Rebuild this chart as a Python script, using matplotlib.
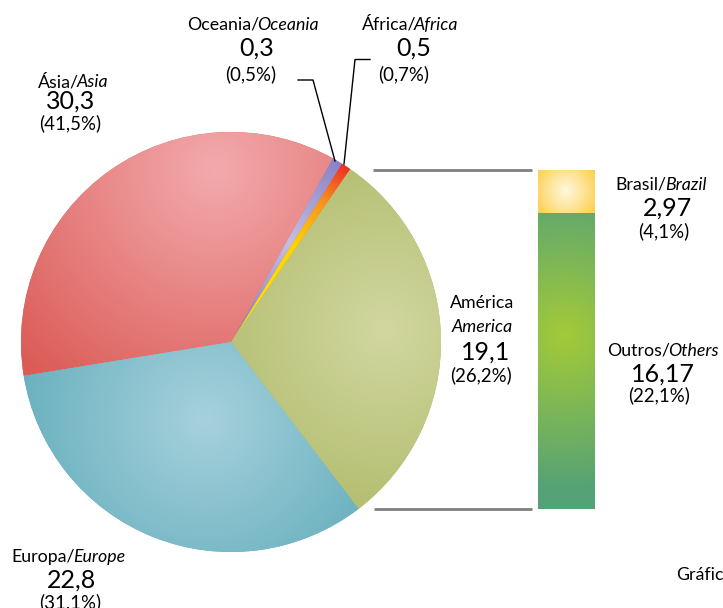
import numpy as np
import matplotlib
matplotlib.use('Agg')
import matplotlib.pyplot as plt
from matplotlib.colors import LinearSegmentedColormap

W, H = 723, 608

# ---- data (as printed on the chart) ----
regions = ['Ásia', 'Oceania', 'África', 'América', 'Europa']
regions_en = ['Asia', 'Oceania', 'Africa', 'America', 'Europe']
values = [30.3, 0.3, 0.5, 19.1, 22.8]
percents = ['41,5%', '0,5%', '0,7%', '26,2%', '31,1%']
# slice sizes as drawn in the picture (share of the circle, %), counter-clockwise from America
slice_order = ['América', 'África', 'Oceania', 'Ásia', 'Europa']
slice_shares = [30.0, 0.75, 0.8, 35.6, 32.8]

bar_items = ['Brasil', 'Outros']
bar_items_en = ['Brazil', 'Others']
bar_values = [2.97, 16.17]
bar_percents = ['4,1%', '22,1%']
# bar segment sizes as drawn (share of the bar, %)
bar_shares = [12.7, 87.3]

FONT = 'Lato'
LBL, VAL, PCT = 12.8, 18, 13.4


def Y(y):
    return H - y


fig = plt.figure(figsize=(W / 100, H / 100), dpi=100)
ax = fig.add_axes([0, 0, 1, 1])
ax.set_axis_off()

cx, cy, R = 231, 342, 210
wedges, _ = ax.pie(slice_shares, startangle=-52.6, counterclock=True,
                   center=(cx, Y(cy)), radius=R,
                   wedgeprops=dict(linewidth=0))


def radial_fill(patch, gx, gy, grad_r, stops, box):
    x0, x1, y0, y1 = box
    xs = np.linspace(x0, x1, int(x1 - x0) + 1)
    ys = np.linspace(y0, y1, int(y1 - y0) + 1)
    XX, YY = np.meshgrid(xs, ys)
    d = np.clip(np.hypot(XX - gx, YY - gy) / grad_r, 0, 1)
    cmap = LinearSegmentedColormap.from_list('g', stops)
    img = cmap(d)
    im = ax.imshow(img, extent=(x0, x1, Y(y1), Y(y0)), origin='upper',
                   aspect='auto', interpolation='bilinear', zorder=2)
    im.set_clip_path(patch)


pie_box = (cx - R - 2, cx + R + 2, cy - R - 2, cy + R + 2)
fills = {
    'América': ((385, 330), 240, [(0, '#d1d7a0'), (1, '#abb661')]),
    'África': ((cx, cy), R, [(0, '#ffe600'), (0.55, '#ffd400'), (0.8, '#f7941e'), (1, '#ee3124')]),
    'Oceania': ((cx, cy), R, [(0, '#7d75bf'), (0.55, '#c4bfe2'), (1, '#8a82c6')]),
    'Ásia': ((215, 170), 270, [(0, '#f3aaad'), (1, '#db5c57')]),
    'Europa': ((205, 420), 240, [(0, '#a6d1dd'), (1, '#5aa8b6')]),
}
for w, name in zip(wedges, slice_order):
    (gx, gy), gr, stops = fills[name]
    w.set_facecolor(stops[-1][1])
    radial_fill(w, gx, gy, gr, stops, pie_box)

# ---- bar of pie ----
bar_x0, bar_x1 = 538, 595
bar_bottom_px, bar_total_px = 509, 339
bar_colors = [
    ((566, 191), 42, [(0, '#fff8de'), (0.5, '#fde08a'), (1, '#fbc62e')]),
    ((565, 335), 155, [(0, '#a3ca38'), (1, '#55a276')]),
]
bottom = Y(bar_bottom_px)
heights = [s / 100 * bar_total_px for s in bar_shares]
bars = {}
for i in [1, 0]:
    b = ax.bar((bar_x0 + bar_x1) / 2, heights[i], width=bar_x1 - bar_x0,
               bottom=bottom, color=bar_colors[i][2][-1][1], linewidth=0, zorder=1)[0]
    bars[i] = b
    bottom += heights[i]
for i in [0, 1]:
    (gx, gy), gr, stops = bar_colors[i]
    radial_fill(bars[i], gx, gy, gr, stops, (bar_x0, bar_x1, 170, 510))

# connector lines
ax.plot([373, 532], [Y(170), Y(170)], color='#808080', lw=2, zorder=3, solid_capstyle='butt')
ax.plot([374, 532], [Y(509), Y(509)], color='#808080', lw=2, zorder=3, solid_capstyle='butt')

# leader lines
ax.plot([298, 313, 335], [Y(80), Y(80), Y(161)], color='black', lw=1, zorder=3)
ax.plot([370, 355, 344], [Y(59.5), Y(59.5), Y(164)], color='black', lw=1, zorder=3)

ax.set_xlim(0, W)
ax.set_ylim(0, H)

renderer = fig.canvas.get_renderer()


def mixed(x, y, normal, italic, size=LBL):
    t1 = ax.text(0, Y(y), normal, fontsize=size, family=FONT, va='baseline', ha='left')
    t2 = ax.text(0, Y(y), italic, fontsize=size, family=FONT, style='italic',
                 va='baseline', ha='left')
    w1 = t1.get_window_extent(renderer).width - 2
    w2 = t2.get_window_extent(renderer).width
    left = x - (w1 + w2) / 2
    t1.set_x(left)
    t2.set_x(left + w1)


def txt(x, y, s, size, style='normal'):
    ax.text(x, Y(y), s, fontsize=size, family=FONT, style=style, va='baseline', ha='center')


def fmt(v):
    return str(v).replace('.', ',')


# label layout: (label x, baseline), (value x, baseline), (pct x, baseline)
layout = {
    'Ásia': ((73, 87), (71, 109), (70, 129)),
    'Oceania': ((253, 30), (257, 56), (251, 80)),
    'África': ((410, 30), (414, 56), (404, 80)),
    'Europa': ((68, 562), (72, 588), (70, 608)),
}
for name, en, v, p in zip(regions, regions_en, values, percents):
    if name == 'América':
        txt(482, 308, name, LBL)
        txt(482, 332, en, LBL, 'italic')
        txt(486, 360, fmt(v), VAL)
        txt(481, 381, '(' + p + ')', PCT)
        continue
    (lx, ly), (vx, vy), (px, py) = layout[name]
    mixed(lx, ly, name + '/', en)
    txt(vx, vy, fmt(v), VAL)
    txt(px, py, '(' + p + ')', PCT)

bar_layout = [((661, 190), (668, 216), (664, 237)),
              ((663, 356), (663, 382), (659, 401))]
for name, en, v, p, lay in zip(bar_items, bar_items_en, bar_values, bar_percents, bar_layout):
    (lx, ly), (vx, vy), (px, py) = lay
    mixed(lx, ly, name + '/', en)
    txt(vx, vy, fmt(v), VAL)
    txt(px, py, '(' + p + ')', PCT)

ax.text(676, Y(580), 'Gráfico', fontsize=LBL, family=FONT, va='baseline', ha='left')

fig.savefig('out.png', dpi=100)
